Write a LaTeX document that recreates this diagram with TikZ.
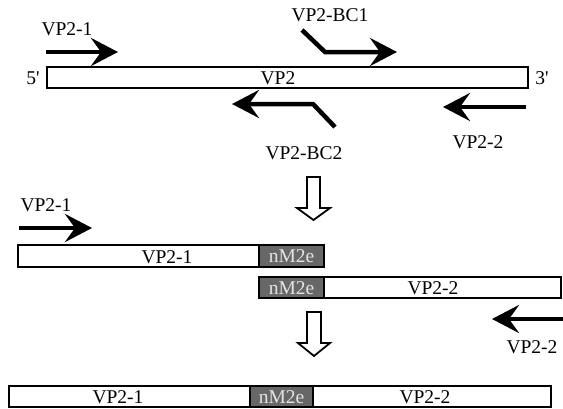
\documentclass[tikz,border=0pt]{standalone}
\usepackage{fontspec}
\setmainfont{Liberation Serif}
\usetikzlibrary{arrows.meta}
\definecolor{taggray}{HTML}{676767}
\definecolor{tagtext}{HTML}{E4E4E4}
\tikzset{
  font={\fontsize{19.5pt}{21pt}\selectfont},
  primer/.style={line width=4.5pt, line join=miter,
    -{Stealth[length=27pt,width=28pt,inset=10pt]}},
  seq/.style={draw, line width=1.8pt, fill=white},
  tag/.style={draw, line width=1.8pt, fill=taggray},
  flow/.style={draw, line width=1.8pt, fill=white, line join=miter},
  lbl/.style={inner sep=0pt},
  taglbl/.style={inner sep=0pt, text=tagtext}}

\begin{document}
\begin{tikzpicture}[x=1pt,y=-1pt]
\useasboundingbox (0,0) rectangle (563,408);
% template and the four primers
\draw[seq] (47,67) rectangle (528,88);
\node[lbl] (vp2) at (278,78) {VP2};
\node[lbl] (end5) at (33,78) {5\textquotesingle};
\node[lbl] (end3) at (542,78) {3\textquotesingle};
\draw[primer] (46,52) -- (118,52);
\draw[primer] (302,30) -- (325,52) -- (397,52);
\draw[primer] (335,127) -- (313,104) -- (232,104);
\draw[primer] (526,107) -- (443,107);
\node[lbl] (p1) at (67,29)  {VP2-1};
\node[lbl] (bc1) at (330,15) {VP2-BC1};
\node[lbl] (bc2) at (304,153) {VP2-BC2};
\node[lbl] (p2) at (478,142) {VP2-2};
% first step
\draw[flow] (307,177) -- (320,177) -- (320,208) -- (330,208) -- (313.5,220)
  -- (297,208) -- (307,208) -- cycle;
% two halves
\draw[seq] (18,245) rectangle (259,267);
\draw[tag] (259,245) rectangle (324,267);
\draw[tag] (259,277) rectangle (324,298);
\draw[seq] (324,277) rectangle (561,298);
\node[lbl] (half1) at (167,257) {VP2-1};
\node[taglbl] (tag1) at (291.5,256) {nM2e};
\node[taglbl] (tag2) at (291.5,288) {nM2e};
\node[lbl] (half2) at (433,288) {VP2-2};
\draw[primer] (19,228) -- (92,228);
\draw[primer] (563,319) -- (492,319);
\node[lbl] (p1b) at (46,205) {VP2-1};
\node[lbl] (p2b) at (532,347) {VP2-2};
% second step
\draw[flow] (307,312) -- (321,312) -- (321,343) -- (330,343) -- (314,356)
  -- (298,343) -- (307,343) -- cycle;
% fused product
\draw[seq] (9,386) rectangle (551,407);
\draw[tag] (250,386) rectangle (313,407);
\node[lbl] (full1) at (118,397) {VP2-1};
\node[taglbl] (tag3) at (281.5,397) {nM2e};
\node[lbl] (full2) at (425,397) {VP2-2};
\end{tikzpicture}
\end{document}
